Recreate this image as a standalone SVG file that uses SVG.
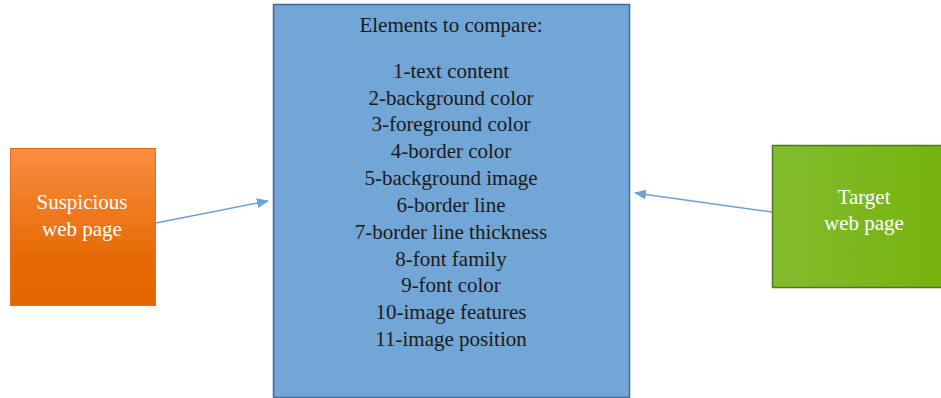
<svg xmlns="http://www.w3.org/2000/svg" width="941" height="398" viewBox="0 0 941 398">
<style>
text{font-family:"Liberation Serif","DejaVu Serif",serif;font-size:21px;text-anchor:middle}
.dark{fill:#1a1a1a}
.light{fill:#ffffff}
.conn{stroke:#6FA0D6;stroke-width:1.5;fill:none}
</style>
<defs>
<linearGradient id="og" x1="0" y1="0" x2="0" y2="1">
<stop offset="0" stop-color="#F98D43"/>
<stop offset="0.7" stop-color="#E76A05"/>
<stop offset="1" stop-color="#E56600"/>
</linearGradient>
<linearGradient id="gg" x1="0" y1="0" x2="1" y2="0">
<stop offset="0" stop-color="#82BC2E"/>
<stop offset="1" stop-color="#75B30E"/>
</linearGradient>
<marker id="ah" viewBox="0 0 12 10" refX="11" refY="5" markerWidth="12" markerHeight="10" markerUnits="userSpaceOnUse" orient="auto">
<path d="M0,0 L12,5 L0,10 z" fill="#6FA0D6"/>
</marker>
</defs>
<rect width="941" height="398" fill="#ffffff"/>
<g id="compare">
<rect x="273.5" y="4.5" width="356" height="393" fill="#72A6D6" stroke="#41699A" stroke-width="1.5"/>
<text class="dark" x="451" y="32">Elements to compare:</text>
<text class="dark" x="451" y="78">1-text content</text>
<text class="dark" x="451" y="105">2-background color</text>
<text class="dark" x="451" y="131">3-foreground color</text>
<text class="dark" x="451" y="158">4-border color</text>
<text class="dark" x="451" y="185">5-background image</text>
<text class="dark" x="451" y="212">6-border line</text>
<text class="dark" x="451" y="239">7-border line thickness</text>
<text class="dark" x="451" y="266">8-font family</text>
<text class="dark" x="451" y="292">9-font color</text>
<text class="dark" x="451" y="319">10-image features</text>
<text class="dark" x="451" y="346">11-image position</text>
</g>
<g id="suspicious">
<rect x="10.5" y="148.5" width="145" height="157" fill="url(#og)" stroke="#E07020" stroke-width="1"/>
<text class="light" x="82" y="209">Suspicious</text>
<text class="light" x="82" y="236">web page</text>
</g>
<g id="target">
<rect x="772.5" y="145.5" width="170" height="142" fill="url(#gg)" stroke="#4E7A1E" stroke-width="1.5"/>
<text class="light" x="864" y="204">Target</text>
<text class="light" x="864" y="230">web page</text>
</g>
<g id="connectors">
<line class="conn" x1="156" y1="223" x2="268" y2="201" marker-end="url(#ah)"/>
<line class="conn" x1="772" y1="212" x2="635" y2="193" marker-end="url(#ah)"/>
</g>
</svg>
